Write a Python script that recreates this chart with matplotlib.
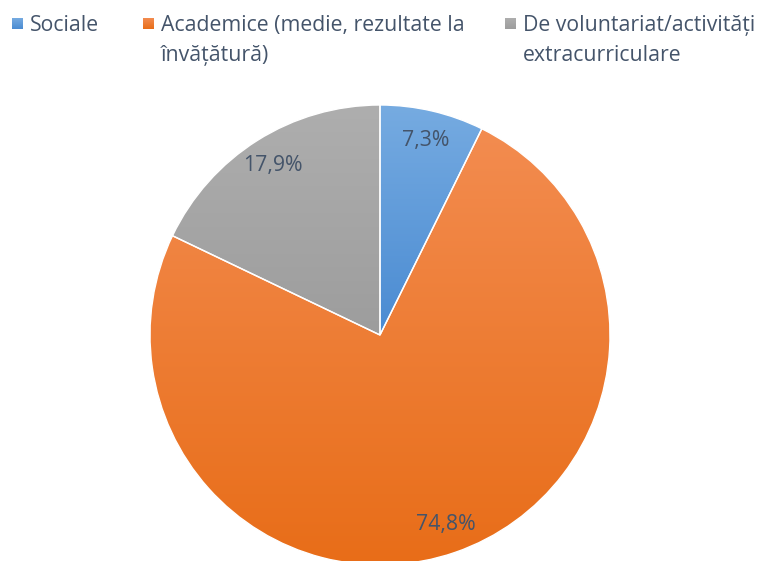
import numpy as np
import matplotlib.pyplot as plt
from matplotlib.colors import LinearSegmentedColormap

plt.rcParams['font.family'] = ['Open Sans', 'DejaVu Sans']

categories = [["Sociale"],
              ["Academice (medie, rezultate la", "învățătură)"],
              ["De voluntariat/activități", "extracurriculare"]]
values = [7.3, 74.8, 17.9]
labels = ["7,3%", "74,8%", "17,9%"]
top_colors = ["#76ABE1", "#F38C50", "#AEAEAE"]
bottom_colors = ["#4A8BD2", "#E86D18", "#9D9D9D"]
text_color = "#44546A"

W, H = 758, 561
fig = plt.figure(figsize=(W / 100, H / 100), dpi=100)
ax = fig.add_axes([0, 0, 1, 1])

cx, cy, r = 380, H - 335, 230
wedges, texts = ax.pie(values, startangle=90, counterclock=False,
                       center=(cx, cy), radius=r, labels=labels,
                       labeldistance=0.87, frame=True,
                       wedgeprops=dict(edgecolor="white", linewidth=1))

grad = np.linspace(0, 1, 256).reshape(-1, 1)


def gradient_fill(patch, c_top, c_bot, extent):
    cmap = LinearSegmentedColormap.from_list("g", [c_bot, c_top])
    im = ax.imshow(grad, cmap=cmap, origin="lower", aspect="auto",
                   extent=extent, zorder=0)
    im.set_clip_path(patch)


# gradient fill for each slice
for w, c1, c2 in zip(wedges, top_colors, bottom_colors):
    w.set_facecolor("none")
    bb = w.get_path().get_extents(w.get_patch_transform())
    gradient_fill(w, c1, c2, [bb.x0, bb.x1, bb.y0, bb.y1])

for t in texts:
    t.set_color(text_color)
    t.set_fontsize(15.3)
    t.set_ha("center")
    t.set_va("center")

# legend drawn by hand
leg_x = [12, 143, 505]
for x, cat, c1, c2 in zip(leg_x, categories, top_colors, bottom_colors):
    sq = plt.Rectangle((x, H - 29), 11, 11, facecolor="none", edgecolor="none")
    ax.add_patch(sq)
    gradient_fill(sq, c1, c2, [x, x + 11, H - 29, H - 18])
    for i, line in enumerate(cat):
        ax.text(x + 18, H - 31 - 30 * i, line, color=text_color,
                fontsize=15.3, va="baseline", ha="left")

ax.set_xlim(0, W)
ax.set_ylim(0, H)
ax.axis("off")

fig.savefig("out.png", dpi=100)
